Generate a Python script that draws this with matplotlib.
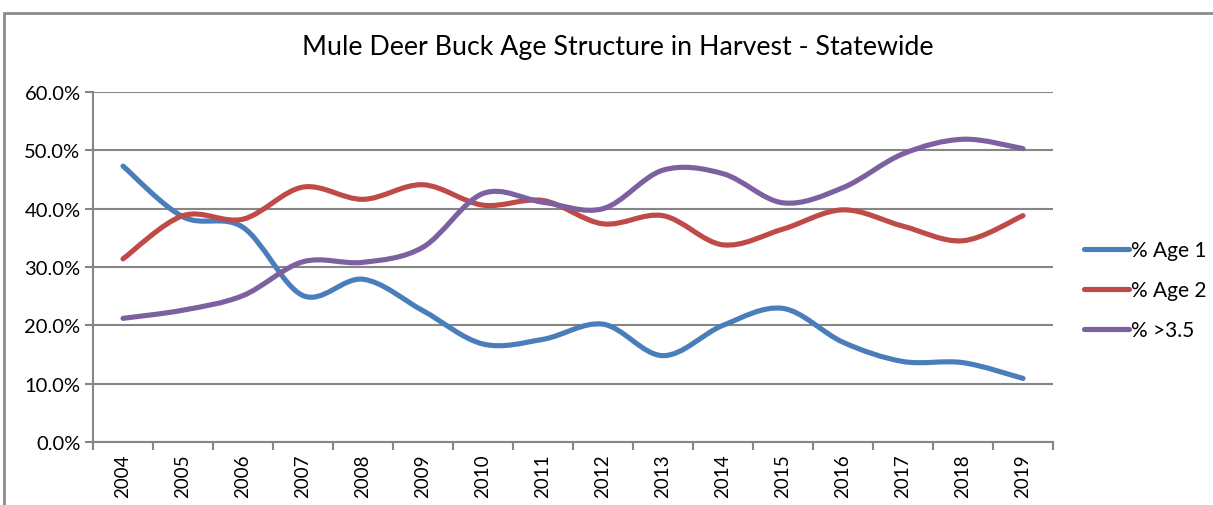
import matplotlib
matplotlib.use('Agg')
import matplotlib.pyplot as plt
from matplotlib.path import Path
from matplotlib.patches import PathPatch, Rectangle
from matplotlib.lines import Line2D
import numpy as np

years = ['2004', '2005', '2006', '2007', '2008', '2009', '2010', '2011',
         '2012', '2013', '2014', '2015', '2016', '2017', '2018', '2019']
age1 = [47.3, 38.6, 36.8, 25.1, 27.9, 22.5, 16.8, 17.6,
        20.2, 14.8, 20.0, 22.9, 17.1, 13.8, 13.6, 10.9]
age2 = [31.4, 38.8, 38.2, 43.7, 41.6, 44.1, 40.6, 41.4,
        37.4, 38.8, 33.8, 36.5, 39.8, 37.0, 34.5, 38.8]
age35 = [21.2, 22.6, 25.1, 30.9, 30.8, 33.4, 42.6, 41.1,
         40.0, 46.6, 46.0, 41.0, 43.6, 49.4, 51.9, 50.3]
series_names = ['% Age 1', '% Age 2', '% >3.5']
colors = ['#4A7EBB', '#BE4B48', '#7D60A0']

plt.rcParams['font.family'] = ['Lato', 'DejaVu Sans']


def smooth_path(y):
    # Excel-like smoothed line: cubic bezier through each point
    x = np.arange(len(y), dtype=float)
    p = np.column_stack([x, np.asarray(y, dtype=float)])
    pts = np.vstack([p[0], p, p[-1]])
    verts = [p[0]]
    codes = [Path.MOVETO]
    for i in range(1, len(pts) - 2):
        c1 = pts[i] + (pts[i + 1] - pts[i - 1]) / 6.0
        c2 = pts[i + 1] - (pts[i + 2] - pts[i]) / 6.0
        verts += [c1, c2, pts[i + 1]]
        codes += [Path.CURVE4] * 3
    return Path(verts, codes)


fig = plt.figure(figsize=(12.13, 5.06), dpi=100)
fig.patches.append(Rectangle((4 / 1213, -0.1), 1.2, (506 - 14) / 506 + 0.1,
                             transform=fig.transFigure, fill=False,
                             edgecolor='#8c8c8c', linewidth=2))
ax = fig.add_axes([93 / 1213, 63 / 506, 960 / 1213, 350 / 506])

handles = []
for vals, name, c in zip([age1, age2, age35], series_names, colors):
    ax.add_patch(PathPatch(smooth_path(vals), fill=False, edgecolor=c,
                           linewidth=3.7, capstyle='round', joinstyle='round',
                           zorder=3))
    handles.append(Line2D([], [], color=c, linewidth=3.7,
                          solid_capstyle='round', label=name))

ax.set_xlim(-0.5, len(years) - 0.5)
ax.set_ylim(0, 60)
ax.set_yticks(np.arange(0, 61, 10))
ax.set_yticklabels([f'{v:.1f}%' for v in np.arange(0, 61, 10)], fontsize=14.5)
ax.yaxis.grid(True, color='#868686', linewidth=1.5)
ax.set_axisbelow(True)

ax.set_xticks(np.arange(-0.5, len(years), 1))
ax.set_xticklabels([])
ax.set_xticks(np.arange(len(years)), minor=True)
ax.set_xticklabels(years, minor=True, rotation=90, fontsize=13.5)
ax.tick_params(axis='x', which='major', length=6, width=1.5, color='#868686')
ax.tick_params(axis='x', which='minor', length=0, pad=8)
ax.tick_params(axis='y', length=6, width=1.5, color='#868686', pad=3)

for s in ['top', 'right']:
    ax.spines[s].set_visible(False)
for s in ['left', 'bottom']:
    ax.spines[s].set_color('#868686')
    ax.spines[s].set_linewidth(1.5)

fig.text(618 / 1213, 1 - 48 / 506, 'Mule Deer Buck Age Structure in Harvest - Statewide',
         ha='center', va='center', fontsize=19.3)

fig.legend(handles=handles, loc='center left',
           bbox_to_anchor=(1065 / 1213, 1 - 291 / 506), frameon=False,
           fontsize=15, handlelength=2.15, handletextpad=0.1, labelspacing=0.95)

fig.savefig('out.png', dpi=100)
